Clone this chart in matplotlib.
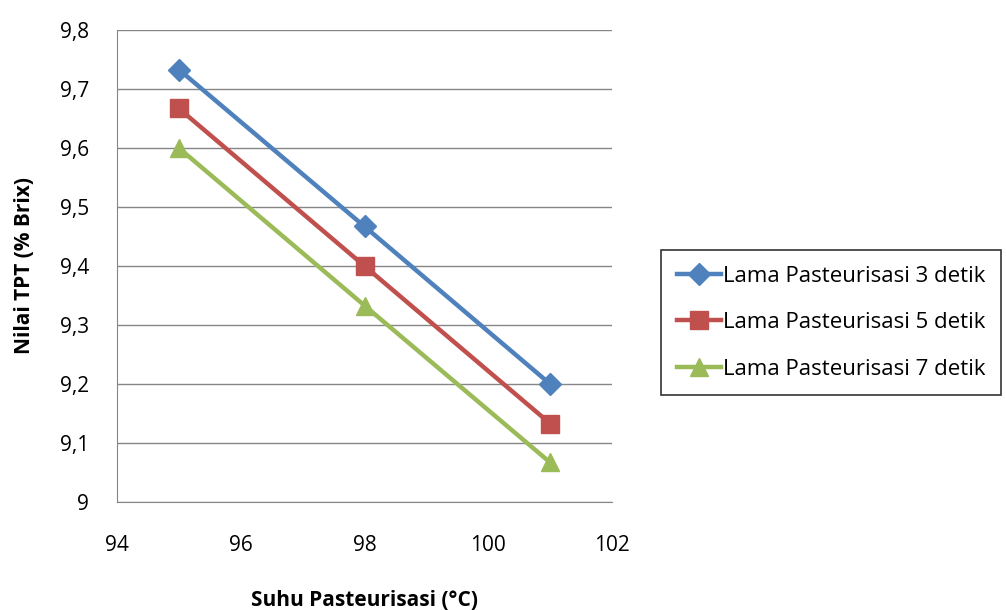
import matplotlib
matplotlib.use("Agg")
import matplotlib.pyplot as plt
from matplotlib.ticker import FuncFormatter

plt.rcParams['font.family'] = ['Open Sans', 'DejaVu Sans']

suhu = [95, 98, 101]
tpt_3 = [9.733, 9.467, 9.200]
tpt_5 = [9.667, 9.400, 9.133]
tpt_7 = [9.600, 9.333, 9.067]
labels = ["Lama Pasteurisasi 3 detik", "Lama Pasteurisasi 5 detik", "Lama Pasteurisasi 7 detik"]
x_ticks = [94, 96, 98, 100, 102]
y_ticks = [9.0, 9.1, 9.2, 9.3, 9.4, 9.5, 9.6, 9.7, 9.8]

fig = plt.figure(figsize=(10.06, 6.10), dpi=100)
ax = fig.add_axes([117/1006, 1-502/610, (612-117)/1006, (502-30)/610])

styles = [("#4F81BD", "D", 11), ("#C0504D", "s", 13), ("#9BBB59", "^", 13)]
for ys, lab, (c, m, ms) in zip([tpt_3, tpt_5, tpt_7], labels, styles):
    ax.plot(suhu, ys, color=c, marker=m, markersize=ms, linewidth=3.2, label=lab, zorder=3)

ax.set_xlim(94, 102)
ax.set_ylim(9.0, 9.8)
ax.set_xticks(x_ticks)
ax.set_yticks(y_ticks)
ax.yaxis.set_major_formatter(FuncFormatter(lambda v, p: ("%g" % round(v, 1)).replace('.', ',')))
ax.xaxis.set_major_formatter(FuncFormatter(lambda v, p: "%d" % v))
ax.grid(axis='y', color='#868686', linewidth=1)
ax.set_axisbelow(True)
for s in ['top', 'right']:
    ax.spines[s].set_visible(False)
for s in ['left', 'bottom']:
    ax.spines[s].set_color('#868686')
ax.tick_params(length=0, labelsize=15, colors='black')
ax.tick_params(axis='x', pad=24)
ax.tick_params(axis='y', pad=20)

ax.set_xlabel("Suhu Pasteurisasi (°C)", fontsize=15, fontweight='bold', labelpad=24)
ax.set_ylabel("Nilai TPT (% Brix)", fontsize=15, fontweight='bold', labelpad=18)

leg = fig.legend(loc='upper left', bbox_to_anchor=(661/1006, 1-250/610), fontsize=16,
                 frameon=True, fancybox=False, edgecolor='black', handlelength=2.0,
                 handletextpad=0.1, labelspacing=1.15, borderpad=0.7, borderaxespad=0)
leg.get_frame().set_linewidth(1.2)

fig.savefig("out.png", dpi=100)
